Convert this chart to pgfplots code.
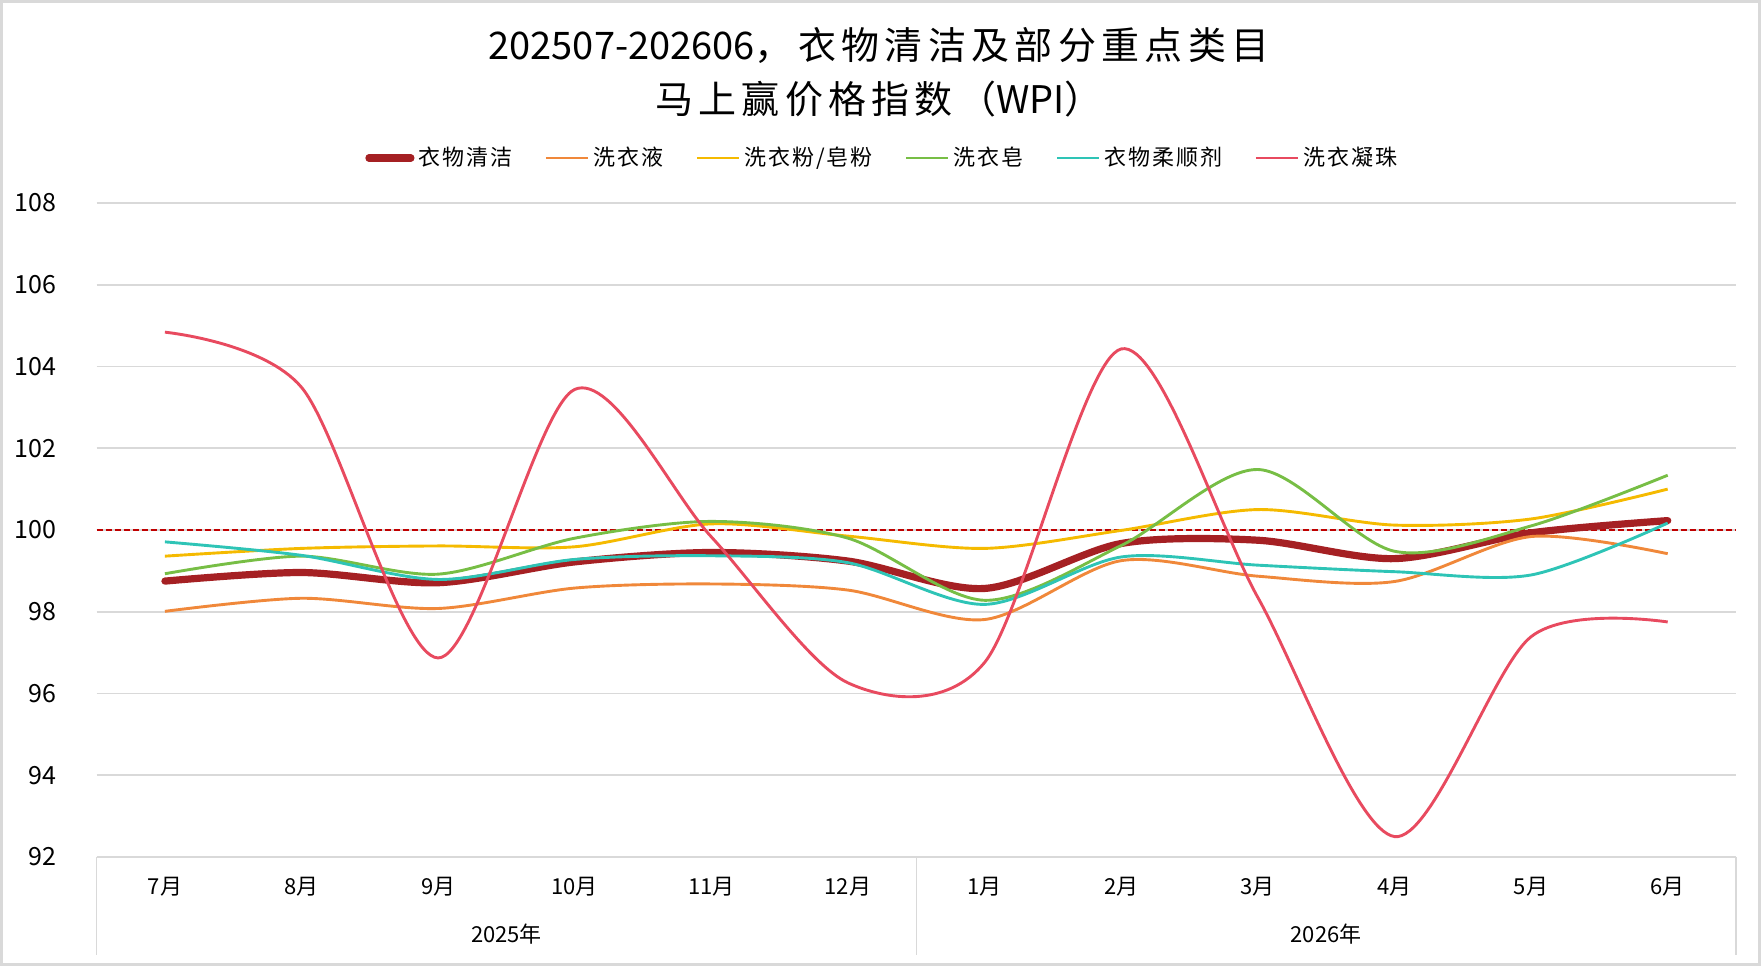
\documentclass[border=0pt]{standalone}
\usepackage{fontspec}
\setmainfont{Noto Sans CJK SC}
\usepackage{pgfplots}
\usepackage{pgfplotstable}
\pgfplotsset{compat=1.18}
\definecolor{cClean}{HTML}{A52023}
\definecolor{cLiquid}{HTML}{F0883A}
\definecolor{cPowder}{HTML}{F5BA00}
\definecolor{cSoap}{HTML}{77BE45}
\definecolor{cSoft}{HTML}{2EC4B6}
\definecolor{cPod}{HTML}{E84A5F}
\definecolor{cGrid}{HTML}{D9D9D9}
\definecolor{cRef}{HTML}{C00000}
\newcommand\cjk[1]{{\addfontfeatures{LetterSpace=9}#1}}
\newcommand\tcjk[1]{{\addfontfeatures{LetterSpace=14}#1}}

\pgfplotstableread{
x clean liquid powder soap soft pod
0  98.75 98.01 99.36  98.93  99.71 104.84
1  98.96 98.33 99.55  99.36  99.38 103.49
2  98.71 98.08 99.61  98.92  98.79 96.87
3  99.22 98.58 99.59  99.80  99.28 103.44
4  99.45 98.68 100.15 100.21 99.37 99.83
5  99.24 98.53 99.85  99.80  99.20 96.26
6  98.57 97.81 99.55  98.28  98.18 96.76
7  99.67 99.25 99.99  99.62  99.34 104.43
8  99.75 98.87 100.50 101.48 99.14 98.35
9  99.30 98.74 100.12 99.48  98.98 92.50
10 99.93 99.84 100.27 100.10 98.90 97.39
11 100.23 99.42 101.00 101.34 100.17 97.75
}\datatable

\begin{document}
\begin{tikzpicture}
\useasboundingbox (0,0) rectangle (880.5pt,483pt);
\draw[cGrid, line width=1.5pt] (0.75pt,0.75pt) rectangle (879.75pt,482.25pt);
\node[font=\fontsize{19}{22}\selectfont, inner sep=0pt] at (439.5pt,460.5pt) {202507-202606\tcjk{，衣物清洁及部分重点类目}};
\node[font=\fontsize{19}{22}\selectfont, inner sep=0pt] at (439.5pt,433.6pt) {\tcjk{马上赢价格指数（}WPI\tcjk{）}};
\begin{axis}[
  at={(48.3pt,54.5pt)}, anchor=south west,
  scale only axis, width=819.7pt, height=327pt,
  xmin=-0.5, xmax=11.5, ymin=92, ymax=108,
  ytick={92,94,...,108},
  xtick={0,...,11},
  xticklabels={7月,8月,9月,10月,11月,12月,1月,2月,3月,4月,5月,6月},
  ymajorgrids, grid style={cGrid, line width=0.9pt},
  axis line style={draw=none},
  major tick length=0pt,
  yticklabel style={font=\fontsize{12.5}{14}\selectfont, anchor=east, inner sep=0pt, xshift=-20pt},
  xticklabel style={font=\fontsize{11}{13}\selectfont, anchor=center, yshift=-15pt},
  /pgf/number format/assume math mode=true,
  clip=false,
  legend columns=-1,
  legend style={at={(0.5,1)}, anchor=center, xshift=-16.5pt, yshift=22.5pt,
    draw=none, fill=none, font=\fontsize{11}{13}\selectfont,
    /tikz/every even column/.append style={column sep=14pt}},
  legend image code/.code={\draw[#1] (0pt,0pt) -- (21pt,0pt);},
]
\addplot[cRef, line width=0.8pt, dash pattern=on 3pt off 1.5pt, forget plot, sharp plot] coordinates {(-0.5,100) (11.5,100)};
\addplot[cClean, line width=3.6pt, line cap=round, smooth] table[x=x, y=clean] {\datatable};
\addlegendentry{\cjk{衣物清洁}}
\addplot[cLiquid, line width=1.45pt, smooth] table[x=x, y=liquid] {\datatable};
\addlegendentry{\cjk{洗衣液}}
\addplot[cPowder, line width=1.45pt, smooth] table[x=x, y=powder] {\datatable};
\addlegendentry{\cjk{洗衣粉/皂粉}}
\addplot[cSoap, line width=1.45pt, smooth] table[x=x, y=soap] {\datatable};
\addlegendentry{\cjk{洗衣皂}}
\addplot[cSoft, line width=1.45pt, smooth] table[x=x, y=soft] {\datatable};
\addlegendentry{\cjk{衣物柔顺剂}}
\addplot[cPod, line width=1.45pt, smooth] table[x=x, y=pod] {\datatable};
\addlegendentry{\cjk{洗衣凝珠}}
\draw[cGrid, line width=0.6pt] (axis cs:-0.5,92) -- ++(0pt,-49pt);
\draw[cGrid, line width=0.6pt] (axis cs:5.5,92) -- ++(0pt,-49pt);
\draw[cGrid, line width=0.6pt] (axis cs:11.5,92) -- ++(0pt,-49pt);
\node[font=\fontsize{11}{13}\selectfont, yshift=-38.5pt] at (axis cs:2.5,92) {2025年};
\node[font=\fontsize{11}{13}\selectfont, yshift=-38.5pt] at (axis cs:8.5,92) {2026年};
\end{axis}
\end{tikzpicture}
\end{document}
